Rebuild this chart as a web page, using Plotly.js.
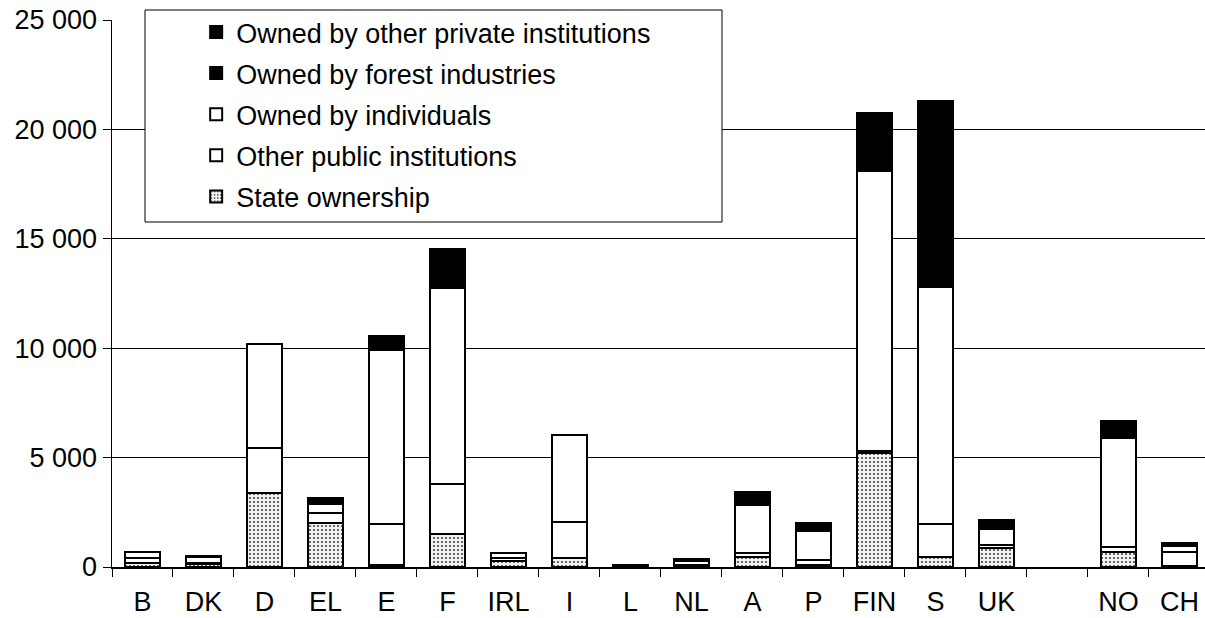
<!DOCTYPE html>
<html>
<head>
<meta charset="utf-8">
<script src="https://cdn.plot.ly/plotly-3.0.1.min.js"></script>
<style>html,body{margin:0;padding:0;background:#fff;}</style>
</head>
<body>
<div id="chart" style="width:1205px;height:618px;"></div>
<script>
const categories = ['B','DK','D','EL','E','F','IRL','I','L','NL','A','P','FIN','S','UK',' ','NO','CH'];
const stateOwnership      = [200,150,3390,2020,80,1510,290,430,10,30,450,100,5200,470,870,null,700,50];
const otherPublic         = [200,50,2070,430,1880,2280,110,1640,30,50,180,220,100,1490,150,null,200,650];
const ownedByIndividuals  = [270,250,4720,430,7940,8940,250,3960,50,180,2200,1320,12800,10840,700,null,5000,260];
const ownedByForestInd    = [null,70,null,260,660,1820,null,null,null,90,610,360,2650,8480,450,null,770,150];
const ownedByOtherPrivate = [null,null,null,null,null,null,null,null,null,null,null,null,null,null,null,null,null,null];
const seriesNames = ['State ownership','Other public institutions','Owned by individuals','Owned by forest industries','Owned by other private institutions'];
const yTicks = [0,5000,10000,15000,20000,25000];

const FONT = 'Liberation Sans, Arial, Helvetica, sans-serif';
const line = {color:'#000', width:2};
function tr(name, y, marker, group, rank){
  return {type:'bar', name:name, x:categories, y:y, marker:Object.assign({line:line}, marker),
          legendgroup:group, legendrank:rank, hoverinfo:'skip'};
}
const data = [
  tr(seriesNames[0], stateOwnership, {color:'#eeeeee', pattern:{shape:'.', fgcolor:'#444', bgcolor:'#f2f2f2', size:4, solidity:0.22}}, 'g1', 5),
  tr(seriesNames[1], otherPublic, {color:'#ffffff'}, 'g2', 4),
  tr(seriesNames[2], ownedByIndividuals, {color:'#ffffff'}, 'g3', 3),
  tr(seriesNames[3], ownedByForestInd, {color:'#000000'}, 'g4', 2),
  tr(seriesNames[4], ownedByOtherPrivate, {color:'#000000'}, 'g5', 1)
];
const layout = {
  width:1205, height:618,
  margin:{l:112, r:0, t:20, b:51, pad:0},
  paper_bgcolor:'#fff', plot_bgcolor:'#fff',
  font:{family:FONT, size:27, color:'#000'},
  barmode:'stack', bargap:0.43,
  separators:', ',
  showlegend:true,
  legend:{traceorder:'grouped', x:0.077, y:1.022, xanchor:'left', yanchor:'top',
          bgcolor:'rgba(0,0,0,0)', borderwidth:0, font:{family:FONT, size:27, color:'#000'},
          tracegroupgap:3, itemwidth:30},
  shapes:[{type:'rect', xref:'paper', yref:'paper', x0:(145-112)/1093, x1:(722-112)/1093,
           y0:(567-222)/547, y1:(567-10)/547, line:{color:'#000', width:1}, fillcolor:'#fff', layer:'above'}],
  xaxis:{type:'category', categoryorder:'array', categoryarray:categories, range:[-0.5,17.42],
         showline:true, linecolor:'#000', linewidth:1.5, ticks:'outside', tickson:'boundaries',
         ticklen:8, tickcolor:'#000', tickwidth:1, showgrid:false, zeroline:false,
         ticklabelstandoff:10, tickfont:{family:FONT, size:27, color:'#000'}, fixedrange:true},
  yaxis:{range:[0,25000], tickvals:yTicks, tickformat:',d', showline:true, linecolor:'#000', linewidth:1.5,
         ticks:'outside', ticklen:8, tickcolor:'#000', showgrid:true, gridcolor:'#000', gridwidth:1.3,
         zeroline:false, tickfont:{family:FONT, size:27, color:'#000'}, fixedrange:true}
};
Plotly.newPlot('chart', data, layout, {displayModeBar:false, staticPlot:true});
</script>
</body>
</html>
